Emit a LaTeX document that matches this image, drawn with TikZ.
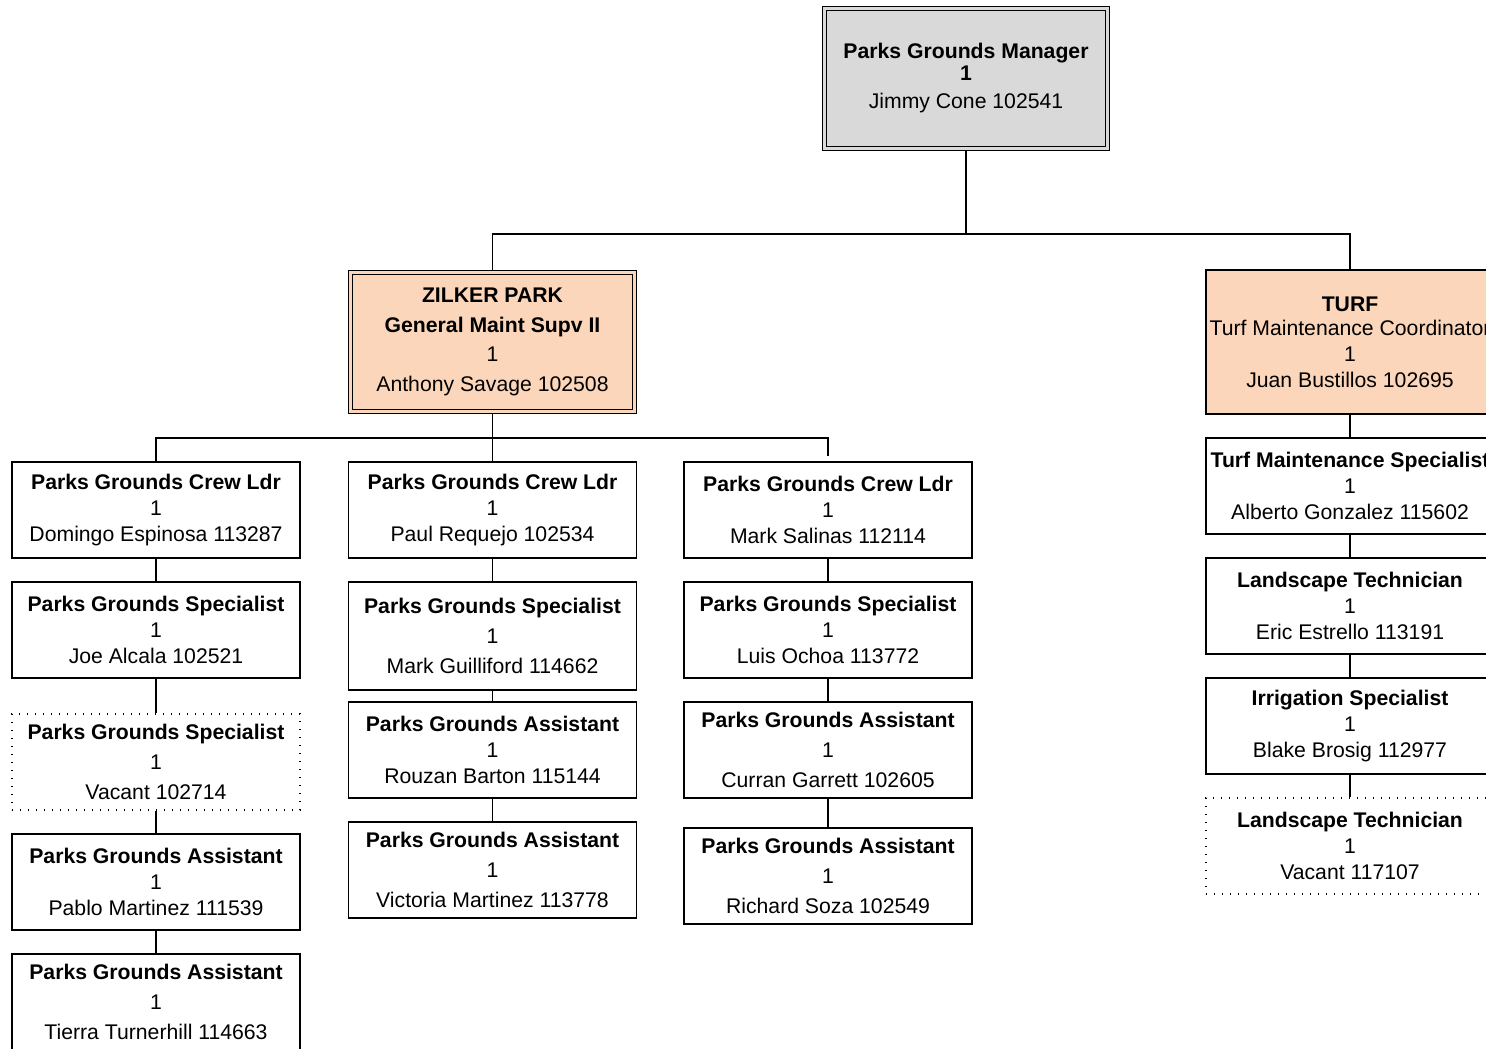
\documentclass[tikz,border=0pt]{standalone}
\usepackage{fontspec}
\setmainfont{Liberation Sans}
\usepackage{tikz}
\definecolor{mgrgray}{RGB}{217,217,217}
\definecolor{peach}{RGB}{251,214,186}

\begin{document}
\begin{tikzpicture}[x=0.5pt, y=-0.5pt, line width=0.7pt,
    box/.style={draw, rectangle, inner sep=0pt, align=center, minimum width=144pt, minimum height=48pt, font=\fontsize{10.6}{13}\selectfont},
    loose/.style={font=\fontsize{10.6}{14.8}\selectfont},
    tall/.style={minimum height=54pt},
    vacant/.style={dash pattern=on 0.6pt off 3.4pt},
    dbl/.style={fill=#1, double=#1, double distance=1.2pt, line width=0.6pt, outer sep=1.2pt}]
		\useasboundingbox (0,0) rectangle (1486,1048);
		\clip (0,0) rectangle (1486,1048);
		% manager
		\node[box, dbl=mgrgray, minimum width=141.6pt, minimum height=70pt, font=\fontsize{10.6}{12.5}\selectfont] (mgr) at (966,78.5)
			{\textbf{Parks Grounds Manager}\\[-1.5pt]\textbf{1}\\[1.5pt]Jimmy Cone 102541};
		% units
		\node[box, loose, dbl=peach, minimum width=142pt, minimum height=69.6pt] (zilker) at (492.5,342)
			{\textbf{ZILKER PARK}\\\textbf{General Maint Supv II}\\1\\Anthony Savage 102508};
		\node[box, fill=peach, minimum height=72pt] (turf) at (1350,342)
			{\textbf{TURF}\\[-1pt]Turf Maintenance Coordinator\\1\\Juan Bustillos 102695};
		% zilker crew 1
		\node[box] (c1a) at (156,510) {\textbf{Parks Grounds Crew Ldr}\\1\\Domingo Espinosa 113287};
		\node[box] (c1b) at (156,630) {\textbf{Parks Grounds Specialist}\\1\\Joe Alcala 102521};
		\node[box, loose, vacant] (c1c) at (156,762) {\textbf{Parks Grounds Specialist}\\1\\Vacant 102714};
		\node[box] (c1d) at (156,882) {\textbf{Parks Grounds Assistant}\\1\\Pablo Martinez 111539};
		\node[box, loose] (c1e) at (156,1002) {\textbf{Parks Grounds Assistant}\\1\\Tierra Turnerhill 114663};
		% zilker crew 2
		\node[box] (c2a) at (492.5,510) {\textbf{Parks Grounds Crew Ldr}\\1\\Paul Requejo 102534};
		\node[box, loose, tall] (c2b) at (492.5,636) {\textbf{Parks Grounds Specialist}\\1\\Mark Guilliford 114662};
		\node[box] (c2c) at (492.5,750) {\textbf{Parks Grounds Assistant}\\1\\Rouzan Barton 115144};
		\node[box, loose] (c2d) at (492.5,870) {\textbf{Parks Grounds Assistant}\\1\\Victoria Martinez 113778};
		% zilker crew 3
		\node[box] (c3a) at (828,510) {\textbf{Parks Grounds Crew Ldr}\\1\\Mark Salinas 112114};
		\node[box] (c3b) at (828,630) {\textbf{Parks Grounds Specialist}\\1\\Luis Ochoa 113772};
		\node[box, loose] (c3c) at (828,750) {\textbf{Parks Grounds Assistant}\\1\\Curran Garrett 102605};
		\node[box, loose] (c3d) at (828,876) {\textbf{Parks Grounds Assistant}\\1\\Richard Soza 102549};
		% turf crew
		\node[box] (t1) at (1350,486) {\textbf{Turf Maintenance Specialist}\\1\\Alberto Gonzalez 115602};
		\node[box] (t2) at (1350,606) {\textbf{Landscape Technician}\\1\\Eric Estrello 113191};
		\node[box] (t3) at (1350,726) {\textbf{Irrigation Specialist}\\1\\Blake Brosig 112977};
		\node[box, vacant] (t4) at (1350,846) {\textbf{Landscape Technician}\\1\\Vacant 117107};
		% connectors
		\coordinate (mbus) at (966,234);
		\coordinate (zbus) at (492.5,438);
		\draw (mgr.south) -- (mbus);
		\draw (zilker.north) |- (mbus) -| (turf.north);
		\draw (zilker.south) -- (c2a.north);
		\draw (zbus) -| (c1a.north);
		\draw[shorten >=2.5pt] (zbus) -| (c3a.north);
		\foreach \a/\b in {c1a/c1b, c1b/c1c, c1c/c1d, c1d/c1e, c2a/c2b, c2b/c2c, c2c/c2d,
			c3a/c3b, c3b/c3c, c3c/c3d, turf/t1, t1/t2, t2/t3, t3/t4}
			\draw (\a.south) -- (\b.north);
	\end{tikzpicture}
\end{document}
